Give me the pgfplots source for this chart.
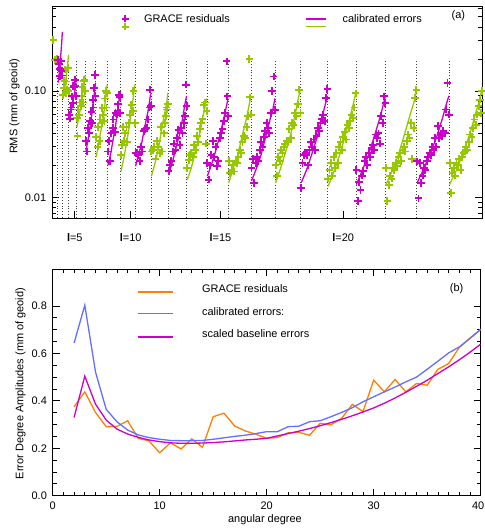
\documentclass[border=0pt]{standalone}
\usepackage{fontspec}
\setmainfont{Liberation Sans}
\usepackage{pgfplots}
\pgfplotsset{compat=1.18}
\definecolor{mag}{RGB}{204,0,204}
\definecolor{grn}{RGB}{150,200,0}
\definecolor{org}{RGB}{255,128,0}
\definecolor{blu}{RGB}{100,110,255}

\pgfplotsset{
  panel/.style={
    scale only axis,
    tick align=inside,
    major tick length=7bp,
    minor tick length=4bp,
    axis line style={line width=0.9bp},
    every tick/.style={line width=0.8bp, black},
    tick label style={font=\fontsize{11}{13}\selectfont},
    label style={font=\fontsize{11}{13}\selectfont},
    clip=true,
  },
  resid/.style={only marks, mark=+, mark size=3.8bp, mark options={line width=1.9bp}},
  calib/.style={line width=1.3bp, unbounded coords=jump},
}

\begin{document}
\fontsize{11}{13}\selectfont
\begin{tikzpicture}
\useasboundingbox (0bp,0bp) rectangle (485bp,529bp);

% ---------------- panel (a) ----------------
\begin{axis}[
  panel,
  at={(52bp,311bp)}, anchor=south west,
  width=430bp, height=212bp,
  ymode=log,
  xmin=0, xmax=623, ymin=0.0064, ymax=0.63,
  xtick={33,114,244,422},
  xticklabels={\textbf{l}=5,\textbf{l}=10,\textbf{l}=15,\textbf{l}=20},
  xtick pos=bottom,
  xticklabel style={yshift=-12bp},
  ytick={0.01,0.1},
  yticklabels={0.01,0.10},
  minor ytick={0.007,0.008,0.009,0.02,0.03,0.04,0.05,0.06,0.07,0.08,0.09,0.2,0.3,0.4,0.5,0.6},
  ytick pos=both, yticklabel pos=left,
  yticklabel style={xshift=-2bp},
  ylabel={RMS (mm of geoid)},
  ylabel style={at={(axis description cs:-0.087,0.526)}, anchor=center},
]

% degree separators
\addplot[black!75, dotted, line width=0.9bp, unbounded coords=jump, forget plot] coordinates {
 (8.5,0.0064) (8.5,0.2) (8.5,nan)
 (15.5,0.0064) (15.5,0.2) (15.5,nan)
 (24.5,0.0064) (24.5,0.2) (24.5,nan)
 (35.5,0.0064) (35.5,0.2) (35.5,nan)
 (48.5,0.0064) (48.5,0.2) (48.5,nan)
 (63.5,0.0064) (63.5,0.2) (63.5,nan)
 (80.5,0.0064) (80.5,0.2) (80.5,nan)
 (99.5,0.0064) (99.5,0.2) (99.5,nan)
 (120.5,0.0064) (120.5,0.2) (120.5,nan)
 (143.5,0.0064) (143.5,0.2) (143.5,nan)
 (168.5,0.0064) (168.5,0.2) (168.5,nan)
 (195.5,0.0064) (195.5,0.2) (195.5,nan)
 (224.5,0.0064) (224.5,0.2) (224.5,nan)
 (255.5,0.0064) (255.5,0.2) (255.5,nan)
 (288.5,0.0064) (288.5,0.2) (288.5,nan)
 (323.5,0.0064) (323.5,0.2) (323.5,nan)
 (360.5,0.0064) (360.5,0.2) (360.5,nan)
 (399.5,0.0064) (399.5,0.2) (399.5,nan)
 (440.5,0.0064) (440.5,0.2) (440.5,nan)
 (483.5,0.0064) (483.5,0.2) (483.5,nan)
 (528.5,0.0064) (528.5,0.2) (528.5,nan)
 (575.5,0.0064) (575.5,0.2)
};

% calibrated errors, even degrees (green)
\addplot[calib, grn] coordinates {
 (4,0.19) (6,0.2) (8,0.21) (8,nan)
 (16,0.085) (19,0.112) (21,0.143) (23,0.189) (24,0.22) (24,nan)
 (36,0.046) (39,0.057) (42,0.073) (44,0.090) (46,0.11) (48,0.14) (48,nan)
 (64,0.024) (67,0.0303) (70,0.0396) (74,0.0542) (77,0.0778) (78,0.0938) (80,0.115) (80,nan)
 (100,0.0176) (104,0.0233) (108,0.0321) (112,0.0468) (116,0.072) (118,0.090) (120,0.115) (120,nan)
 (144,0.0158) (149,0.0207) (154,0.0282) (158,0.0404) (163,0.0611) (166,0.0759) (168,0.096) (168,nan)
 (196,0.0147) (202,0.0191) (207,0.0258) (213,0.0366) (218,0.0547) (221,0.0676) (224,0.085) (224,nan)
 (256,0.0137) (262,0.0182) (269,0.025) (275,0.0365) (282,0.0562) (285,0.0705) (288,0.09) (288,nan)
 (324,0.0137) (331,0.0186) (338,0.0263) (346,0.0395) (353,0.0631) (356,0.0805) (360,0.105) (360,nan)
 (400,0.0127) (408,0.0172) (416,0.0242) (424,0.0361) (432,0.0574) (436,0.0731) (440,0.095) (440,nan)
 (484,0.0132) (493,0.0179) (502,0.0252) (510,0.0378) (519,0.0603) (524,0.0769) (528,0.1) (528,nan)
 (576,0.0132) (586,0.018) (595,0.0256) (605,0.0388) (614,0.0625) (619,0.0802) (623,0.105)
};

% calibrated errors, odd degrees (magenta)
\addplot[calib, mag] coordinates {
 (9,0.12) (11,0.16) (13,0.23) (14,0.28) (15,0.36) (15,nan)
 (25,0.055) (28,0.066) (30,0.076) (33,0.099) (35,0.12) (35,nan)
 (49,0.027) (52,0.034) (55,0.045) (58,0.062) (60,0.081) (62,0.103) (63,0.12) (63,nan)
 (81,0.020) (85,0.0255) (88,0.0335) (92,0.0462) (95,0.0668) (97,0.081) (99,0.1) (99,nan)
 (121,0.0196) (125,0.0248) (130,0.0325) (134,0.0446) (139,0.064) (141,0.0774) (143,0.095) (143,nan)
 (169,0.0163) (174,0.021) (179,0.0281) (185,0.0396) (190,0.0586) (192,0.0721) (195,0.09) (195,nan)
 (225,0.0158) (231,0.0203) (237,0.0271) (243,0.0379) (249,0.0557) (252,0.0683) (255,0.085) (255,nan)
 (289,0.0142) (296,0.0186) (303,0.0252) (309,0.036) (316,0.0543) (320,0.0673) (323,0.085) (323,nan)
 (361,0.0137) (369,0.0182) (376,0.025) (384,0.0365) (391,0.0562) (395,0.0705) (399,0.09) (399,nan)
 (441,0.0132) (449,0.0176) (458,0.0244) (466,0.0358) (475,0.0557) (479,0.0702) (483,0.09) (483,nan)
 (529,0.0137) (538,0.0182) (547,0.025) (557,0.0365) (566,0.0562) (570,0.0705) (575,0.09)
};

% GRACE residuals, even degrees (green)
\addplot[resid, grn] coordinates {
 (2,0.30) (4,0.195) (7,0.2)
 (16,0.092) (17,0.107) (18,0.125) (19,0.159) (20,0.096) (21,0.123) (22,0.103) (23,0.164) (24,0.10)
 (36,0.056) (37,0.038) (38,0.067) (39,0.06) (40,0.078) (42,0.072) (43,0.09) (44,0.11) (45,0.078) (46,0.125) (47,0.128) (48,0.1)
 (64,0.037) (66,0.03) (67,0.046) (69,0.034) (70,0.054) (72,0.05) (73,0.069) (74,0.06) (76,0.052) (77,0.085) (78,0.1) (79,0.07) (80,0.095)
 (100,0.025) (101,0.031) (103,0.046) (104,0.034) (106,0.04) (108,0.046) (109,0.033) (111,0.05) (113,0.06) (115,0.074) (117,0.065) (118,0.1) (120,0.05)
 (144,0.027) (146,0.028) (148,0.03) (150,0.023) (152,0.034) (154,0.03) (156,0.026) (158,0.046) (160,0.027) (162,0.04) (164,0.05) (165,0.058) (166,0.07) (167,0.067) (168,0.075)
 (196,0.019) (198,0.0226) (200,0.025) (202,0.026) (204,0.024) (206,0.031) (208,0.028) (210,0.038) (212,0.033) (214,0.044) (216,0.05) (218,0.055) (220,0.074) (222,0.078) (223,0.032) (224,0.065)
 (256,0.022) (258,0.017) (260,0.018) (262,0.02) (264,0.0175) (266,0.022) (268,0.021) (270,0.024) (272,0.028) (274,0.026) (276,0.033) (278,0.038) (280,0.036) (282,0.046) (284,0.058) (286,0.2) (287,0.087) (288,0.06)
 (324,0.02) (326,0.016) (328,0.024) (330,0.022) (332,0.028) (334,0.026) (336,0.03) (338,0.032) (340,0.034) (342,0.033) (344,0.044) (346,0.036) (348,0.05) (350,0.048) (352,0.062) (354,0.058) (356,0.075) (358,0.103) (360,0.062)
 (400,0.015) (402,0.018) (404,0.021) (406,0.016) (408,0.024) (410,0.019) (412,0.026) (414,0.021) (416,0.03) (418,0.033) (420,0.028) (422,0.037) (424,0.041) (426,0.035) (428,0.048) (430,0.045) (432,0.052) (434,0.06) (436,0.056) (438,0.07) (440,0.095)
 (484,0.019) (486,0.0092) (488,0.013) (490,0.016) (492,0.015) (494,0.019) (496,0.018) (498,0.021) (500,0.0196) (502,0.024) (504,0.026) (506,0.022) (508,0.028) (510,0.03) (512,0.027) (514,0.034) (516,0.039) (518,0.036) (520,0.05) (522,0.023) (524,0.045) (526,0.086) (528,0.103)
 (576,0.021) (578,0.011) (580,0.017) (582,0.019) (584,0.016) (586,0.021) (588,0.02) (590,0.023) (592,0.018) (594,0.024) (596,0.026) (598,0.027) (600,0.03) (602,0.028) (604,0.033) (606,0.039) (608,0.037) (610,0.045) (612,0.054) (614,0.048) (616,0.06) (618,0.072) (620,0.083) (622,0.062) (623,0.1)
};

% GRACE residuals, odd degrees (magenta)
\addplot[resid, mag] coordinates {
 (9,0.197) (10,0.18) (11,0.139) (12,0.16) (13,0.19) (14,0.154) (15,0.14)
 (25,0.06) (26,0.055) (27,0.067) (28,0.07) (29,0.089) (30,0.077) (31,0.112) (32,0.11) (33,0.128) (34,0.112) (35,0.09)
 (49,0.034) (51,0.027) (52,0.045) (54,0.04) (55,0.052) (57,0.064) (58,0.05) (59,0.083) (60,0.07) (61,0.107) (62,0.142) (63,0.09)
 (81,0.027) (83,0.034) (84,0.022) (86,0.04) (88,0.045) (89,0.054) (91,0.041) (92,0.062) (94,0.06) (95,0.065) (96,0.075) (97,0.092) (98,0.088) (99,0.062)
 (121,0.026) (123,0.026) (125,0.025) (127,0.022) (129,0.03) (131,0.027) (133,0.042) (135,0.044) (137,0.045) (139,0.054) (141,0.07) (142,0.103) (143,0.072)
 (169,0.0176) (171,0.02) (173,0.022) (175,0.027) (177,0.032) (179,0.028) (181,0.036) (183,0.043) (185,0.031) (187,0.045) (189,0.04) (191,0.05) (193,0.058) (194,0.115) (195,0.072)
 (225,0.021) (227,0.0147) (229,0.02) (231,0.025) (233,0.034) (235,0.024) (237,0.03) (239,0.0196) (241,0.022) (243,0.036) (245,0.04) (247,0.044) (249,0.052) (251,0.062) (253,0.19) (254,0.089) (255,0.058)
 (289,0.019) (291,0.023) (293,0.0137) (295,0.021) (297,0.024) (299,0.022) (301,0.028) (303,0.033) (305,0.03) (307,0.037) (309,0.042) (311,0.05) (313,0.045) (315,0.04) (317,0.062) (319,0.1) (321,0.137) (323,0.066)
 (361,0.0123) (363,0.021) (365,0.025) (367,0.026) (369,0.025) (371,0.02) (373,0.028) (375,0.033) (377,0.03) (379,0.035) (381,0.028) (383,0.038) (385,0.045) (387,0.042) (389,0.05) (391,0.055) (393,0.06) (395,0.052) (397,0.086) (399,0.104)
 (441,0.0182) (443,0.0092) (445,0.014) (447,0.0118) (449,0.016) (451,0.0178) (453,0.022) (455,0.024) (457,0.02) (459,0.026) (461,0.024) (463,0.029) (465,0.031) (467,0.028) (469,0.039) (471,0.036) (473,0.04) (475,0.032) (477,0.058) (479,0.05) (481,0.089) (483,0.077)
 (529,0.0218) (531,0.0098) (533,0.021) (535,0.0137) (537,0.016) (539,0.019) (541,0.018) (543,0.022) (545,0.024) (547,0.026) (549,0.025) (551,0.03) (553,0.028) (555,0.036) (557,0.03) (559,0.047) (561,0.036) (563,0.04) (565,0.038) (567,0.042) (569,0.04) (571,0.067) (573,0.119) (575,0.06)
};

% legend (a): swatches drawn as strokes, texts beside them
\draw[mag, line width=1.9bp] ([xshift=-3.5bp]rel axis cs:0.170,0.939) -- ([xshift=3.5bp]rel axis cs:0.170,0.939)
  ([yshift=-3.5bp]rel axis cs:0.170,0.939) -- ([yshift=3.5bp]rel axis cs:0.170,0.939);
\draw[grn, line width=1.9bp] ([xshift=-3.5bp]rel axis cs:0.170,0.902) -- ([xshift=3.5bp]rel axis cs:0.170,0.902)
  ([yshift=-3.5bp]rel axis cs:0.170,0.902) -- ([yshift=3.5bp]rel axis cs:0.170,0.902);
\node[anchor=west] at (rel axis cs:0.205,0.939) {GRACE residuals};
\draw[mag, line width=1.3bp] (rel axis cs:0.591,0.939) -- (rel axis cs:0.637,0.939);
\draw[grn, line width=1.3bp] (rel axis cs:0.591,0.902) -- (rel axis cs:0.637,0.902);
\node[anchor=west] at (rel axis cs:0.667,0.939) {calibrated errors};
\node at (rel axis cs:0.945,0.953) {(a)};
\end{axis}

% ---------------- panel (b) ----------------
\begin{axis}[
  panel,
  at={(52.7bp,33.3bp)}, anchor=south west,
  width=428bp, height=226.5bp,
  xmin=0, xmax=40, ymin=0, ymax=0.955,
  xtick={0,10,20,30,40},
  xticklabels={0,10,20,30,\hspace{-5bp}40},
  minor x tick num=9,
  ytick={0,0.2,0.4,0.6,0.8},
  yticklabels={0.0,0.2,0.4,0.6,0.8},
  minor y tick num=3,
  xtick pos=both, xticklabel pos=bottom,
  ytick pos=both, yticklabel pos=left,
  xticklabel style={yshift=-2bp},
  yticklabel style={xshift=-2bp},
  xlabel={angular degree},
  xlabel style={at={(axis description cs:0.496,-0.107)}, anchor=center},
  ylabel={Error Degree Amplitudes (mm of geoid)},
  ylabel style={at={(axis description cs:-0.075,0.495)}, anchor=center},
]

% GRACE residuals
\addplot[org, line width=1.3bp] coordinates {
 (2,0.375) (3,0.438) (4,0.351) (5,0.291) (6,0.292) (7,0.316) (8,0.242) (9,0.231) (10,0.181)
 (11,0.223) (12,0.197) (13,0.24) (14,0.204) (15,0.333) (16,0.348) (17,0.294) (18,0.273) (19,0.259)
 (20,0.242) (21,0.245) (22,0.265) (23,0.267) (24,0.255) (25,0.305) (26,0.299) (27,0.326) (28,0.385)
 (29,0.355) (30,0.487) (31,0.438) (32,0.49) (33,0.438) (34,0.473) (35,0.466) (36,0.533) (37,0.557)
 (38,0.625) (39,0.665) (40,0.70)
};

% calibrated errors
\addplot[blu, line width=1.3bp] coordinates {
 (2,0.644) (3,0.803) (4,0.522) (5,0.364) (6,0.312) (7,0.277) (8,0.256) (9,0.245) (10,0.238)
 (11,0.233) (12,0.232) (13,0.232) (14,0.233) (15,0.238) (16,0.244) (17,0.25) (18,0.255) (19,0.262)
 (20,0.27) (21,0.27) (22,0.291) (23,0.293) (24,0.312) (25,0.316) (26,0.333) (27,0.351) (28,0.371)
 (29,0.396) (30,0.417) (31,0.438) (32,0.458) (33,0.48) (34,0.50) (35,0.533) (36,0.567) (37,0.602)
 (38,0.627) (39,0.663) (40,0.702)
};

% scaled baseline errors
\addplot[mag, line width=1.3bp] coordinates {
 (2,0.33) (3,0.504) (4,0.386) (5,0.319) (6,0.281) (7,0.26) (8,0.246) (9,0.235) (10,0.228)
 (11,0.223) (12,0.221) (13,0.221) (14,0.222) (15,0.224) (16,0.227) (17,0.231) (18,0.235) (19,0.238)
 (20,0.242) (21,0.252) (22,0.262) (23,0.272) (24,0.283) (25,0.295) (26,0.308) (27,0.322) (28,0.337)
 (29,0.353) (30,0.37) (31,0.39) (32,0.412) (33,0.436) (34,0.461) (35,0.487) (36,0.515) (37,0.543)
 (38,0.573) (39,0.605) (40,0.639)
};

% legend (b)
\draw[org, line width=1.3bp] (axis cs:8.0,0.859) -- (axis cs:11.2,0.859);
\draw[blu, line width=1.3bp] (axis cs:8.0,0.768) -- (axis cs:11.2,0.768);
\draw[mag, line width=1.3bp] (axis cs:8.0,0.669) -- (axis cs:11.2,0.669);
\node[anchor=west] at (axis cs:13.6,0.874) {GRACE residuals};
\node[anchor=west] at (axis cs:13.6,0.777) {calibrated errors:};
\node[anchor=west] at (axis cs:13.6,0.685) {scaled baseline errors};
\node at (axis cs:37.75,0.874) {(b)};
\end{axis}
\end{tikzpicture}
\end{document}
